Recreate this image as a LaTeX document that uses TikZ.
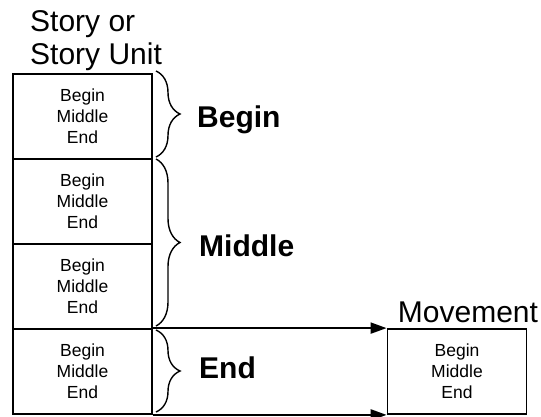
\documentclass[tikz,border=0pt]{standalone}
\usepackage{fontspec}
\setmainfont{Liberation Sans}
\usetikzlibrary{arrows.meta,decorations.pathreplacing}
\begin{document}
\begin{tikzpicture}[x=1pt,y=1pt,
  unitbox/.style={draw, line width=1.8pt, rectangle, minimum width=139pt, minimum height=85pt,
    inner sep=0pt, align=center, font=\fontsize{17.5}{21}\selectfont},
  bigbrace/.style={draw, line width=1.4pt, decorate, decoration={brace, amplitude=24pt}},
  partlabel/.style={anchor=base west, inner sep=0pt, font=\fontsize{30}{33}\selectfont\bfseries},
  headlabel/.style={inner sep=0pt, font=\fontsize{30}{33}\selectfont},
  flow/.style={line width=2pt, -{Triangle[length=16pt,width=11pt]}}]
\useasboundingbox (0,0) rectangle (541,416);

% stacked story units
\node[unitbox] (b1) at (82.5,299.5) {Begin\\Middle\\End};
\node[unitbox] (b2) at (82.5,214.5) {Begin\\Middle\\End};
\node[unitbox] (b3) at (82.5,129.5) {Begin\\Middle\\End};
\node[unitbox] (b4) at (82.5,44.5) {Begin\\Middle\\End};

% movement box
\node[unitbox] (mv) at (457,44.5) {Begin\\Middle\\End};

% headings (base anchor sits on the last line)
\node[headlabel, anchor=base west, align=left] (story) at (30,351) {Story or\\Story Unit};
\node[headlabel, anchor=base] (movt) at (468,94) {Movement};

% braces grouping the units
\coordinate (br1a) at (156,345);
\coordinate (br1b) at (156,259);
\coordinate (br2a) at (156,257);
\coordinate (br2b) at (156,90);
\coordinate (br3a) at (156,86);
\coordinate (br3b) at (156,4);
\draw[bigbrace] (br1a) -- (br1b);
\draw[bigbrace] (br2a) -- (br2b);
\draw[bigbrace] (br3a) -- (br3b);

\node[partlabel] (lbegin) at (197,288) {Begin};
\node[partlabel] (lmiddle) at (199,160) {Middle};
\node[partlabel] (lend) at (199,38) {End};

% arrows from the last unit to the movement
\draw[flow] (b4.north east) -- (mv.north west);
\draw[flow] (b4.south east) -- (mv.south west);
\end{tikzpicture}
\end{document}
